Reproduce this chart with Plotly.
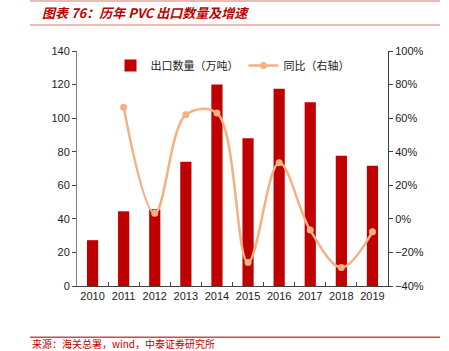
import plotly.graph_objects as go

years = ["2010", "2011", "2012", "2013", "2014", "2015", "2016", "2017", "2018", "2019"]
export_qty = [27.3, 44.5, 45.7, 74.0, 120.0, 88.0, 117.5, 109.5, 77.6, 71.7]
yoy_pct = [None, 66.5, 3.3, 62.0, 63.0, -26.0, 33.4, -6.7, -29.0, -7.7]

title_text = "图表 76：历年 PVC 出口数量及增速"
source_text = "来源：海关总署，wind，中泰证券研究所"

RED = "#C00000"
SALMON = "#F4B183"
FONT = "Liberation Sans, Arial, sans-serif"
CJK = "Noto Sans CJK SC"

fig = go.Figure()
fig.add_trace(go.Bar(
    x=years, y=export_qty, name="出口数量（万吨）",
    marker=dict(color=RED, line=dict(width=0)), width=0.36,
))
fig.add_trace(go.Scatter(
    x=years, y=yoy_pct, name="同比（右轴）", yaxis="y2",
    mode="lines+markers", line=dict(color=SALMON, width=2.5, shape="spline", smoothing=1.0),
    marker=dict(color=SALMON, size=7), connectgaps=False,
))

fig.update_layout(
    width=449, height=351,
    margin=dict(l=77, r=61, t=51, b=65),
    paper_bgcolor="white", plot_bgcolor="white",
    showlegend=True,
    legend=dict(orientation="h", x=0.5, xanchor="center", y=1.0, yanchor="top",
                font=dict(family=CJK, size=11, color="#222"), bgcolor="rgba(0,0,0,0)",
                itemwidth=30, tracegroupgap=0),
    bargap=0.5,
    xaxis=dict(type="category", range=[-0.5, 9.5], showline=True, linecolor="#404040", linewidth=1,
               ticks="inside", ticklen=4, tickcolor="#404040", tickson="boundaries", tickangle=0,
               tickfont=dict(family=FONT, size=11, color="#222"), showgrid=False, zeroline=False),
    yaxis=dict(range=[0, 140], dtick=20, showline=True, linecolor="#808080", linewidth=1,
               ticks="outside", ticklen=4, tickcolor="#404040",
               tickfont=dict(family=FONT, size=11, color="#222"), showgrid=False, zeroline=False),
    yaxis2=dict(range=[-40, 100], dtick=20, overlaying="y", side="right", showline=True,
                linecolor="#404040", linewidth=1, ticks="outside", ticklen=4, tickcolor="#404040",
                ticksuffix="%", tickfont=dict(family=FONT, size=11, color="#222"),
                showgrid=False, zeroline=False),
)

# header/footer rules
for yy, col in [(1.213, "#E8A0A0"), (1.111, "#E8A0A0"), (-0.218, "#D04848")]:
    fig.add_shape(type="line", xref="paper", yref="paper", x0=-0.151, x1=1.167, y0=yy, y1=yy,
                  line=dict(color=col, width=1.5))

fig.add_annotation(text="<i><b>" + title_text + "</b></i>", xref="paper", yref="paper",
                   x=-0.118, y=1.162, xanchor="left", yanchor="middle", showarrow=False,
                   font=dict(family=CJK, size=13, color=RED))
fig.add_annotation(text=source_text, xref="paper", yref="paper",
                   x=-0.15, y=-0.245, xanchor="left", yanchor="middle", showarrow=False,
                   font=dict(family=CJK, size=10, color=RED))

fig.write_html("out.html")
